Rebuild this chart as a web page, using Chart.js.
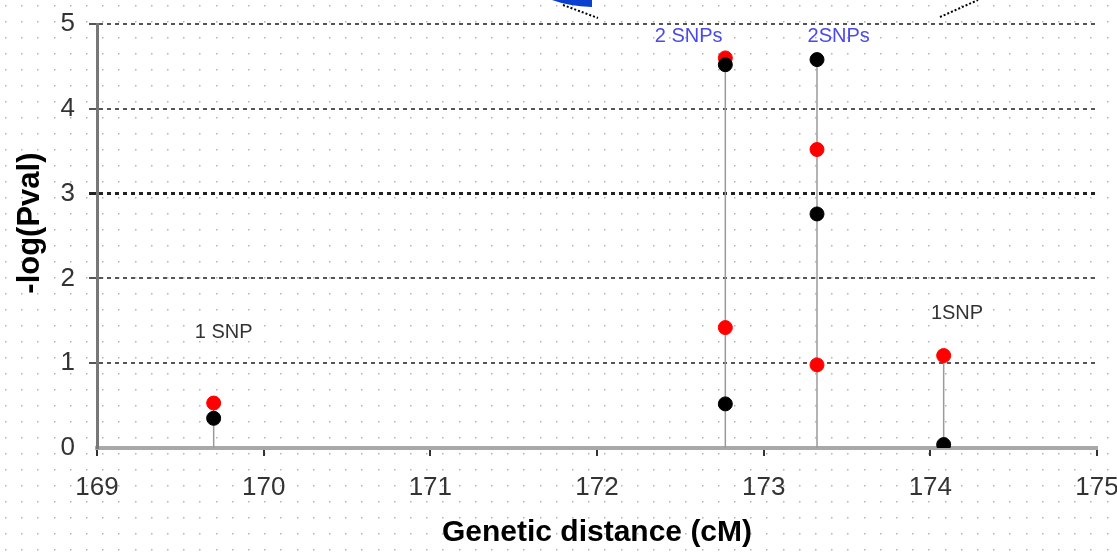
<!DOCTYPE html>
<html>
<head>
<meta charset="utf-8">
<script src="https://cdn.jsdelivr.net/npm/chart.js@4"></script>
<style>
  html, body { margin: 0; padding: 0; background: #fff; }
  #wrap { width: 1117px; height: 553px; }
</style>
</head>
<body>
<div id="wrap"><canvas id="snpChart" width="1117" height="553"></canvas></div>
<script>
// values
const xTicks = [169, 170, 171, 172, 173, 174, 175];
const yTicks = [0, 1, 2, 3, 4, 5];

const blackX = [169.70, 172.77, 172.77, 173.32, 173.32, 174.08];
const blackY = [0.35, 4.52, 0.52, 4.58, 2.76, 0.04];

const redX = [169.70, 172.77, 172.77, 173.32, 173.32, 174.08];
const redY = [0.53, 4.60, 1.42, 3.52, 0.98, 1.09];

const noteText = ["1 SNP", "2 SNPs", "2SNPs", "1SNP"];
const noteX = [169.76, 172.55, 173.45, 174.16];
const noteY = [1.36, 4.85, 4.85, 1.59];
const noteColor = ["#333", "#4a4ae8", "#4a4ae8", "#333"];

const toPoints = (xs, ys) => xs.map((x, i) => ({ x: x, y: ys[i] }));

// one vertical drop line per marker position, from 0 up to the highest point there
const dropX = [...new Set(blackX.concat(redX))];
const dropSets = dropX.map(x => {
    let top = 0;
    blackX.forEach((bx, i) => { if (bx === x) top = Math.max(top, blackY[i]); });
    redX.forEach((rx, i) => { if (rx === x) top = Math.max(top, redY[i]); });
    return {
        type: 'line',
        data: [{ x: x, y: 0 }, { x: x, y: top }],
        borderColor: '#9a9a9a',
        borderWidth: 1.5,
        pointRadius: 0,
        fill: false
    };
});

// dotted paper background
const paperDots = {
    id: 'paperDots',
    beforeDraw(chart) {
        const ctx = chart.ctx;
        ctx.save();
        ctx.fillStyle = '#b4b4b4';
        for (let y = 5; y < chart.height; y += 16) {
            for (let x = 5; x < chart.width; x += 16.2) {
                ctx.fillRect(Math.round(x), y, 1.5, 1.5);
            }
        }
        ctx.restore();
    }
};

// text notes and the bits of arrows cut off at the top
const notes = {
    id: 'notes',
    afterDraw(chart) {
        const ctx = chart.ctx;
        const xs = chart.scales.x, ys = chart.scales.y;
        ctx.save();
        ctx.font = '20px "Liberation Sans", Arial, sans-serif';
        ctx.textAlign = 'center';
        ctx.textBaseline = 'middle';
        noteText.forEach((t, i) => {
            ctx.fillStyle = noteColor[i];
            ctx.fillText(t, xs.getPixelForValue(noteX[i]), ys.getPixelForValue(noteY[i]));
        });

        // blue arrow edge
        ctx.beginPath();
        ctx.moveTo(552, 0);
        ctx.quadraticCurveTo(568, 6, 592, 7);
        ctx.lineTo(592, 0);
        ctx.closePath();
        ctx.fillStyle = '#0a3fd0';
        ctx.fill();

        ctx.strokeStyle = '#000';
        ctx.lineWidth = 2;
        ctx.setLineDash([2, 2]);
        ctx.beginPath();
        ctx.moveTo(563, 5);
        ctx.lineTo(598, 18);
        ctx.stroke();
        ctx.beginPath();
        ctx.moveTo(940, 17);
        ctx.lineTo(978, 0);
        ctx.stroke();
        ctx.restore();
    }
};

const snpChart = new Chart('snpChart', {
    type: 'scatter',
    data: {
        datasets: [
            {
                label: 'black',
                data: toPoints(blackX, blackY),
                backgroundColor: '#000',
                borderColor: '#000',
                pointRadius: 7,
                pointHoverRadius: 7
            },
            {
                label: 'red',
                data: toPoints(redX, redY),
                backgroundColor: '#ff0000',
                borderColor: '#ff0000',
                pointRadius: 7,
                pointHoverRadius: 7
            },
            ...dropSets
        ]
    },
    options: {
        responsive: false,
        animation: false,
        layout: {
            padding: { top: 24, right: 20, left: 0, bottom: 0 }
        },
        plugins: {
            legend: { display: false },
            tooltip: { enabled: false }
        },
        scales: {
            x: {
                type: 'linear',
                min: xTicks[0],
                max: xTicks[xTicks.length - 1],
                afterBuildTicks: s => { s.ticks = xTicks.map(v => ({ value: v })); },
                afterFit: s => { s.height = 105; s.paddingLeft = 0; s.paddingRight = 0; },
                ticks: {
                    color: '#333',
                    padding: 16,
                    maxRotation: 0,
                    font: { family: '"Liberation Sans", Arial, sans-serif', size: 26 }
                },
                grid: {
                    drawOnChartArea: false,
                    drawTicks: true,
                    tickLength: 8,
                    color: '#333',
                    lineWidth: 2
                },
                border: { display: true, color: '#a8a8a8', width: 4 },
                title: {
                    display: true,
                    text: 'Genetic distance (cM)',
                    color: '#000',
                    padding: { top: 0, bottom: 2 },
                    font: { family: '"Liberation Sans", Arial, sans-serif', size: 30, weight: 'bold' }
                }
            },
            y: {
                min: yTicks[0],
                max: yTicks[yTicks.length - 1],
                afterBuildTicks: s => { s.ticks = yTicks.map(v => ({ value: v })); },
                afterFit: s => { s.width = 97; s.paddingTop = 0; s.paddingBottom = 0; },
                ticks: {
                    color: '#333',
                    padding: 14,
                    font: { family: '"Liberation Sans", Arial, sans-serif', size: 26 }
                },
                grid: {
                    drawTicks: true,
                    tickLength: 8,
                    color: ctx => ctx.tick && ctx.tick.value === 0 ? 'rgba(0,0,0,0)' : (ctx.tick && ctx.tick.value === 3 ? '#222' : '#555'),
                    lineWidth: ctx => ctx.tick && ctx.tick.value === 3 ? 3 : 2
                },
                border: { display: true, color: '#777', width: 3, dash: [4, 4] },
                title: {
                    display: true,
                    text: '   -log(Pval)',
                    color: '#000',
                    padding: { top: 12, bottom: 0 },
                    font: { family: '"Liberation Sans", Arial, sans-serif', size: 31, weight: 'bold' }
                }
            }
        }
    },
    plugins: [paperDots, notes]
});
</script>
</body>
</html>
